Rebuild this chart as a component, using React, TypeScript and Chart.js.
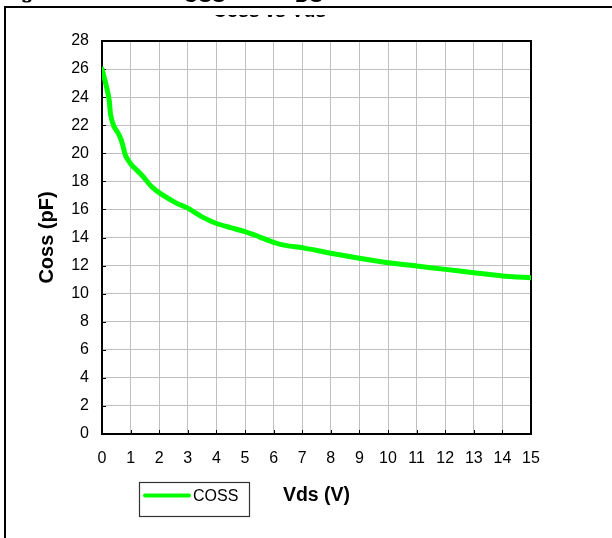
import React, { useEffect, useRef } from "react";
import { Chart, registerables } from "chart.js";

Chart.register(...registerables);

// ---- data ----
const vdsValues = [0, 0.15, 0.25, 0.3, 0.41, 0.6, 0.71, 0.83, 1.03, 1.38, 1.73, 2.02, 2.6, 3.0, 3.48, 4.0, 4.5, 5.0, 5.5, 6.0, 6.46, 7.0, 8, 9, 10, 11, 12, 13, 14, 15];
const cossValues = [26.0, 24.8, 23.8, 22.75, 21.95, 21.3, 20.7, 19.8, 19.18, 18.47, 17.63, 17.16, 16.45, 16.09, 15.49, 15.0, 14.7, 14.42, 14.05, 13.66, 13.42, 13.28, 12.88, 12.52, 12.2, 11.97, 11.73, 11.49, 11.26, 11.13];
const seriesLabel = "COSS";
const xTitle = "Vds (V)";
const yTitle = "Coss (pF)";
const chartTitle = "Coss vs Vds";
const captionParts = ["Figure", "OSS", "DS"];
const xRange = [0, 15, 1];
const yRange = [0, 28, 2];

const FONT = "'Liberation Sans', Arial, sans-serif";

const decorPlugin = {
  id: "decor",
  beforeDraw(chart: any) {
    const ctx = chart.ctx;
    ctx.save();
    // outer document frame
    ctx.fillStyle = "#000";
    ctx.fillRect(4, 6, 620, 2);
    ctx.fillRect(4, 6, 2, 540);
    // clipped caption above the frame
    ctx.save();
    ctx.beginPath();
    ctx.rect(0, 0, 612, 2.6);
    ctx.clip();
    ctx.font = `bold 20px ${FONT}`;
    ctx.textBaseline = "alphabetic";
    ctx.textAlign = "left";
    ctx.fillText(captionParts[0], 3, -1.5);
    ctx.fillText(captionParts[1], 183, 2.4);
    ctx.fillText(captionParts[2], 295, 2.4);
    ctx.restore();
    // clipped chart title
    ctx.save();
    ctx.beginPath();
    ctx.rect(0, 15, 612, 2.4);
    ctx.clip();
    ctx.font = `bold 19px ${FONT}`;
    ctx.textAlign = "center";
    ctx.textBaseline = "alphabetic";
    ctx.fillText(chartTitle, 269.5, 17.4);
    ctx.restore();
    ctx.restore();
  },
  beforeDatasetsDraw(chart: any) {
    const { ctx, chartArea: a, scales } = chart;
    ctx.save();
    // inner tick marks
    ctx.strokeStyle = "#000";
    ctx.lineWidth = 1;
    ctx.beginPath();
    for (let v = xRange[0] + xRange[2]; v < xRange[1]; v += xRange[2]) {
      const px = Math.round(scales.x.getPixelForValue(v)) + 0.5;
      ctx.moveTo(px, a.bottom);
      ctx.lineTo(px, a.bottom - 4);
    }
    for (let v = yRange[0] + yRange[2]; v < yRange[1]; v += yRange[2]) {
      const py = Math.round(scales.y.getPixelForValue(v)) + 0.5;
      ctx.moveTo(a.left, py);
      ctx.lineTo(a.left + 4, py);
    }
    ctx.stroke();
    // plot frame
    ctx.lineWidth = 2;
    ctx.strokeRect(a.left, a.top, a.right - a.left, a.bottom - a.top);
    ctx.restore();
  },
  afterDraw(chart: any) {
    const ctx = chart.ctx;
    const ds = chart.data.datasets[0];
    ctx.save();
    ctx.strokeStyle = "#333";
    ctx.lineWidth = 1.2;
    ctx.strokeRect(139.5, 482.5, 110, 34);
    ctx.strokeStyle = ds.borderColor;
    ctx.lineWidth = 4;
    ctx.lineCap = "round";
    ctx.beginPath();
    ctx.moveTo(145, 495.5);
    ctx.lineTo(189, 495.5);
    ctx.stroke();
    ctx.fillStyle = "#000";
    ctx.font = `16px ${FONT}`;
    ctx.textAlign = "left";
    ctx.textBaseline = "middle";
    ctx.fillText(ds.label, 193, 496.5);
    ctx.restore();
  },
};

export default function App() {
  const ref = useRef<HTMLCanvasElement | null>(null);
  useEffect(() => {
    if (!ref.current) return;
    Chart.defaults.font.family = FONT;
    const chart = new Chart(ref.current, {
      type: "line",
      data: {
        datasets: [
          {
            label: seriesLabel,
            data: vdsValues.map((v, i) => ({ x: v, y: cossValues[i] })),
            borderColor: "#00ff00",
            backgroundColor: "#00ff00",
            borderWidth: 5,
            pointRadius: 0,
            tension: 0.2,
            borderCapStyle: "round",
            borderJoinStyle: "round",
            fill: false,
          },
        ],
      },
      options: {
        responsive: false,
        animation: false,
        layout: { padding: { left: 0, top: 41, right: 81, bottom: 0 } },
        plugins: { legend: { display: false }, tooltip: { enabled: false }, title: { display: false } },
        scales: {
          x: {
            type: "linear",
            min: xRange[0],
            max: xRange[1],
            afterFit: (s: any) => {
              s.height = 104;
            },
            ticks: { stepSize: xRange[2], color: "#000", font: { size: 16 }, padding: 15, maxRotation: 0, autoSkip: false },
            grid: { color: "#c0c0c0", lineWidth: 1, drawTicks: false },
            border: { display: false },
            title: { display: true, text: xTitle, color: "#000", font: { size: 19.5, weight: "bold" }, padding: { top: 0, bottom: 31 } },
          },
          y: {
            type: "linear",
            min: yRange[0],
            max: yRange[1],
            afterFit: (s: any) => {
              s.width = 102;
            },
            ticks: { stepSize: yRange[2], color: "#000", font: { size: 16 }, padding: 13 },
            grid: { color: "#c0c0c0", lineWidth: 1, drawTicks: false },
            border: { display: false },
            title: { display: true, text: yTitle, color: "#000", font: { size: 20, weight: "bold" }, padding: { top: 35, bottom: 0 } },
          },
        },
      },
      plugins: [decorPlugin],
    } as any);
    return () => chart.destroy();
  }, []);
  return (
    <div style={{ position: "absolute", left: 0, top: 0, width: 612, height: 538, background: "#fff", overflow: "hidden" }}>
      <canvas ref={ref} width={612} height={538} style={{ display: "block", width: 612, height: 538 }} />
    </div>
  );
}
